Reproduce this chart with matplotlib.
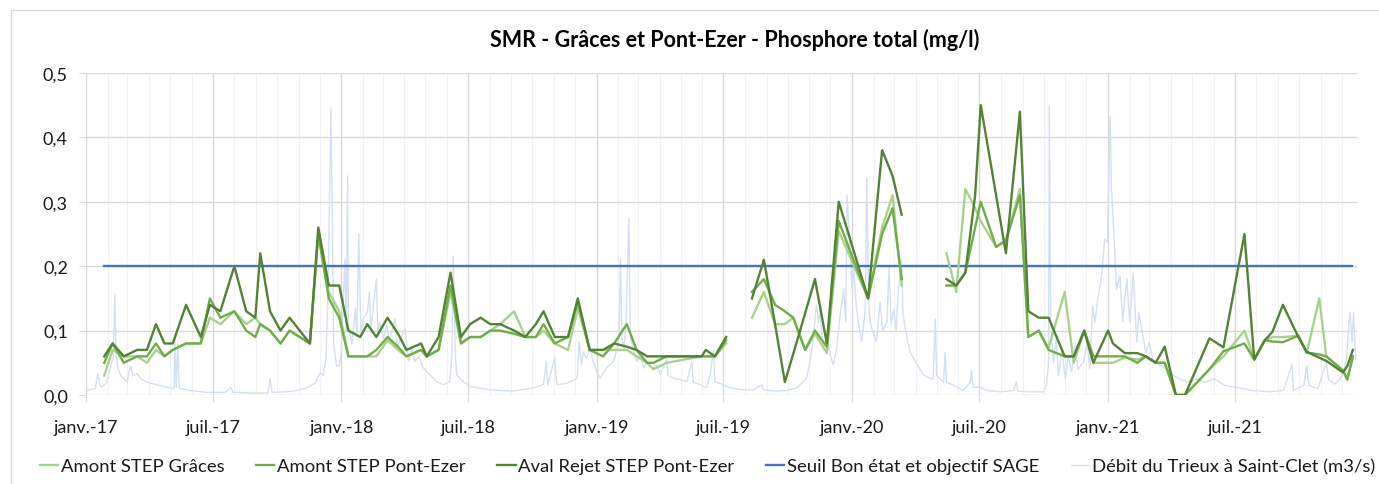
import numpy as np
import pandas as pd
import matplotlib
matplotlib.use("Agg")
import matplotlib.pyplot as plt
import matplotlib.dates as mdates
from matplotlib.patches import Rectangle

plt.rcParams['font.family'] = ['Lato', 'DejaVu Sans']

# jours depuis le 01/01/2017 (prelevements), nan = pas de mesure
jours_mesures = [26, 38, 54, 73, 87, 100, 112, 124, 143, 164, 177, 192, 212, 229, 242, 249, 263, 278, 291,
                 320, 332, 347, 362, 375, 392, 402, 415, 431, 446, 458, 479, 487, 504, 521, 536, 549, 564,
                 578, 592, 612, 628, 643, 654, 670, 689, 703, 720, 739, 755, 773, 787, 802, 811, 830, 880,
                 886, 899, 915,
                 930,
                 952, 969, 985, 999, 1011, 1028, 1042, 1059, 1076, 1118, 1138, 1153, 1166,
                 1200,
                 1230, 1244, 1257, 1271, 1279, 1301, 1315, 1335, 1347, 1362, 1376, 1399, 1412, 1427, 1440,
                 1461, 1468, 1485, 1503, 1515, 1529, 1542, 1558, 1571, 1606, 1626, 1656, 1670, 1685, 1696,
                 1711, 1733, 1745, 1763, 1773, 1797, 1803, 1811]

amont_graces = [.03, .07, .06, .06, .05, .07, .06, .07, .08, .08, .12, .11, .13, .11, .12, .11, .10, .08, .10,
                .08, .25, .16, .13, .06, .06, .06, .06, .085, .07, .06, .07, .06, .07, .16, .08, .09, .09,
                .10, .11, .13, .09, .09, .10, .08, .07, .135, .07, .07, .07, .07, .06, .05, .04, .05, .06,
                .06, .06, .08,
                np.nan,
                .12, .16, .11, .11, .12, .07, .095, .065, .255, .15, .26, .31, .17,
                np.nan,
                .22, .16, .32, .29, .27, .23, .24, .32, .09, .10, .073, .16, .05, .10, .05,
                .05, .05, .058, .055, .06, .05, .05, 0, 0, .04, .06, .10, .055, .085, .09,
                .09, .092, .065, .15, .06, .038, .024, .06]

amont_pont_ezer = [.05, .08, .05, .06, .06, .08, .06, .07, .08, .08, .15, .12, .13, .10, .09, .11, .10, .08, .10,
                   .08, .25, .15, .12, .06, .06, .06, .07, .09, .075, .06, .07, .06, .07, .17, .08, .09, .09,
                   .10, .10, .095, .09, .09, .11, .08, .09, .145, .07, .06, .08, .11, .07, .05, .05, .06, .06,
                   .06, .06, .085,
                   np.nan,
                   .16, .18, .14, .13, .12, .07, .10, .075, .27, .15, .25, .29, .18,
                   np.nan,
                   .17, .17, .19, .26, .30, .23, .24, .31, .09, .10, .07, .06, .06, .10, .06,
                   .06, .06, .06, .05, .06, .05, .05, 0, 0, .04, .068, .08, .055, .085, .083,
                   .082, .092, .066, .063, .06, .038, .024, .06]

aval_rejet = [.06, .08, .06, .07, .07, .11, .08, .08, .14, .09, .14, .13, .20, .13, .12, .22, .13, .10, .12,
              .08, .26, .17, .17, .10, .09, .11, .09, .12, .095, .07, .08, .06, .09, .19, .09, .11, .12,
              .11, .11, .10, .09, .11, .13, .09, .09, .15, .07, .07, .08, .075, .07, .06, .06, .06, .06,
              .07, .06, .09,
              np.nan,
              .15, .21, .11, .02, .064, .127, .18, .08, .30, .15, .38, .34, .28,
              np.nan,
              .18, .17, .19, .31, .45, .31, .22, .44, .13, .12, .12, .06, .06, .10, .05,
              .10, .08, .065, .065, .06, .05, .075, 0, 0, .088, .074, .25, .055, .085, .098,
              .14, .09, .067, .058, .053, .035, .045, .07]

jours_seuil = [26, 1810]
seuil = [0.2, 0.2]

# debit du Trieux
jours_debit = [1, 13, 17, 21, 29, 34, 39, 41, 43, 46, 51, 59, 61, 64, 67, 73, 79, 87, 101, 116, 126, 127, 129,
               131, 133, 149, 173, 199, 207, 210, 242, 260, 263, 266, 296, 313, 327, 335, 339, 343, 346, 350,
               352, 354, 358, 362, 365, 368, 370, 372, 374, 375, 380, 385, 387, 390, 393, 396, 402, 405, 407,
               412, 415, 417, 420, 425, 430, 433, 437, 442, 445, 449, 456, 461, 466, 470, 476, 482, 492, 501,
               511, 520, 523, 525, 528, 530, 539, 549, 578, 610, 639, 654, 658, 660, 670, 673, 687, 702, 705,
               708, 711, 715, 720, 725, 730, 735, 744, 754, 759, 762, 764, 766, 769, 772, 776, 778, 782, 787,
               792, 797, 802, 809, 816, 821, 830, 832, 840, 859, 866, 868, 878, 887, 892, 894, 897, 899, 906,
               921, 940, 954, 966, 968, 987, 1002, 1016, 1023, 1030, 1035, 1040, 1044, 1047, 1049, 1054, 1059,
               1064, 1068, 1073, 1078, 1083, 1086, 1088, 1091, 1095, 1097, 1101, 1104, 1109, 1114, 1116, 1119,
               1121, 1126, 1130, 1135, 1139, 1145, 1148, 1151, 1155, 1158, 1161, 1166, 1168, 1173, 1178, 1188,
               1197, 1207, 1211, 1214, 1216, 1226, 1228, 1230, 1240, 1254, 1264, 1266, 1268, 1278, 1288, 1307,
               1326, 1330, 1332, 1350, 1369, 1373, 1376, 1377, 1379, 1383, 1387, 1390, 1395, 1400, 1404, 1409,
               1414, 1418, 1426, 1431, 1435, 1439, 1442, 1447, 1452, 1456, 1460, 1462, 1464, 1466, 1469, 1473,
               1478, 1482, 1485, 1488, 1492, 1497, 1502, 1505, 1510, 1515, 1520, 1525, 1535, 1545, 1555, 1564,
               1574, 1589, 1599, 1613, 1628, 1643, 1658, 1667, 1692, 1712, 1724, 1726, 1741, 1745, 1748, 1761,
               1773, 1776, 1785, 1793, 1797, 1802, 1805, 1807, 1810, 1812, 1815]
debit = [.007, .01, .033, .012, .018, .04, .06, .155, .06, .04, .028, .02, .035, .045, .03, .033, .025, .02, .016,
         .012, .01, .085, .012, .08, .01, .007, .004, .004, .012, .004, .003, .003, .025, .004, .006, .01, .018,
         .035, .03, .056, .16, .444, .28, .08, .045, .046, .066, .15, .21, .1, .34, .11, .08, .134, .09, .25,
         .09, .118, .128, .16, .1, .15, .18, .1, .113, .088, .108, .085, .098, .118, .072, .085, .103, .052,
         .072, .052, .06, .042, .031, .021, .016, .021, .062, .216, .06, .031, .021, .013, .008, .006, .011,
         .016, .052, .016, .058, .016, .018, .026, .083, .047, .067, .057, .072, .052, .036, .026, .042, .052,
         .072, .093, .21, .09, .072, .113, .275, .09, .072, .052, .062, .042, .052, .042, .047, .031, .057,
         .03, .026, .021, .052, .02, .016, .011, .031, .047, .07, .021, .018, .011, .008, .008, .016, .008,
         .006, .007, .011, .018, .026, .052, .093, .14, .113, .13, .072, .093, .062, .047, .072, .124, .165,
         .113, .31, .25, .165, .2, .14, .113, .083, .134, .336, .14, .113, .093, .083, .144, .1, .113, .2,
         .11, .134, .1, .16, .21, .124, .093, .067, .047, .031, .026, .025, .118, .03, .02, .066, .02, .015,
         .007, .02, .038, .012, .012, .007, .005, .007, .02, .006, .005, .005, .015, .05, .45, .113, .05,
         .087, .03, .072, .025, .061, .036, .077, .04, .051, .082, .041, .139, .113, .154, .185, .242, .237,
         .335, .432, .32, .257, .164, .185, .113, .154, .18, .113, .19, .082, .128, .097, .066, .082, .056,
         .046, .04, .03, .025, .02, .025, .02, .025, .015, .012, .009, .007, .005, .007, .048, .007, .015,
         .046, .015, .01, .05, .025, .017, .025, .035, .056, .108, .128, .082, .128, .056]

debut = pd.Timestamp('2017-01-01')
fin_axe = 1817
etiquettes = ['janv.-17', 'juil.-17', 'janv.-18', 'juil.-18', 'janv.-19', 'juil.-19',
              'janv.-20', 'juil.-20', 'janv.-21', 'juil.-21']

def to_dates(jours):
    return debut + pd.to_timedelta(jours, unit='D')

d_mes = to_dates(jours_mesures)

fig = plt.figure(figsize=(13.79, 4.85), dpi=100)
ax = fig.add_axes([0.0624, 0.1835, 0.9217, 0.664])

l_flow, = ax.plot(to_dates(jours_debit), debit, color='#d3dff2', lw=1.0, zorder=1)
l_g, = ax.plot(d_mes, amont_graces, color='#a9d18e', lw=1.7, zorder=3)
l_m, = ax.plot(d_mes, amont_pont_ezer, color='#70ad47', lw=1.7, zorder=4)
l_d, = ax.plot(d_mes, aval_rejet, color='#548235', lw=1.7, zorder=5)
l_s, = ax.plot(to_dates(jours_seuil), seuil, color='#4472c4', lw=1.7, zorder=2)

ax.set_xlim(debut, debut + pd.Timedelta(days=fin_axe))
ax.set_ylim(0, 0.5)
ax.set_yticks(np.arange(0, 0.51, 0.1))
ax.set_yticklabels(['0,0', '0,1', '0,2', '0,3', '0,4', '0,5'])

ax.xaxis.set_major_locator(mdates.MonthLocator(bymonth=[1, 7]))
ax.xaxis.set_minor_locator(mdates.MonthLocator())
ticks = ax.get_xticks()
ax.set_xticks(ticks[:len(etiquettes)])
ax.set_xticklabels(etiquettes)

ax.grid(which='major', color='#d9d9d9', lw=1.0, zorder=0)
ax.grid(which='minor', axis='x', color='#f2f2f2', lw=0.8, zorder=0)
ax.set_axisbelow(True)
for s in ax.spines.values():
    s.set_visible(False)
ax.tick_params(axis='x', which='major', length=5, color='#d9d9d9', pad=12, labelsize=13, labelcolor='#1a1a1a')
ax.tick_params(axis='x', which='minor', length=0)
ax.tick_params(axis='y', length=5, color='#d9d9d9', pad=8, labelsize=13, labelcolor='#1a1a1a')

fig.text(0.533, 0.918, 'SMR - Grâces et Pont-Ezer - Phosphore total (mg/l)', ha='center', va='center',
         fontsize=15.5, fontweight='bold', color='#000000')

fig.legend([l_g, l_m, l_d, l_s, l_flow],
           ['Amont STEP Grâces', 'Amont STEP Pont-Ezer', 'Aval Rejet STEP Pont-Ezer',
            'Seuil Bon état et objectif SAGE', 'Débit du Trieux à Saint-Clet (m3/s)'],
           loc='center', bbox_to_anchor=(0.513, 0.037), ncol=5, frameon=False, fontsize=13.3,
           handlelength=1.0, handletextpad=0.15, columnspacing=1.7, labelcolor='#1a1a1a')

fig.patches.append(Rectangle((0.008, -0.1), 1.2, 1.077, transform=fig.transFigure, fill=False,
                             edgecolor='#d9d9d9', lw=1.0))

fig.savefig('out.png', dpi=100)
